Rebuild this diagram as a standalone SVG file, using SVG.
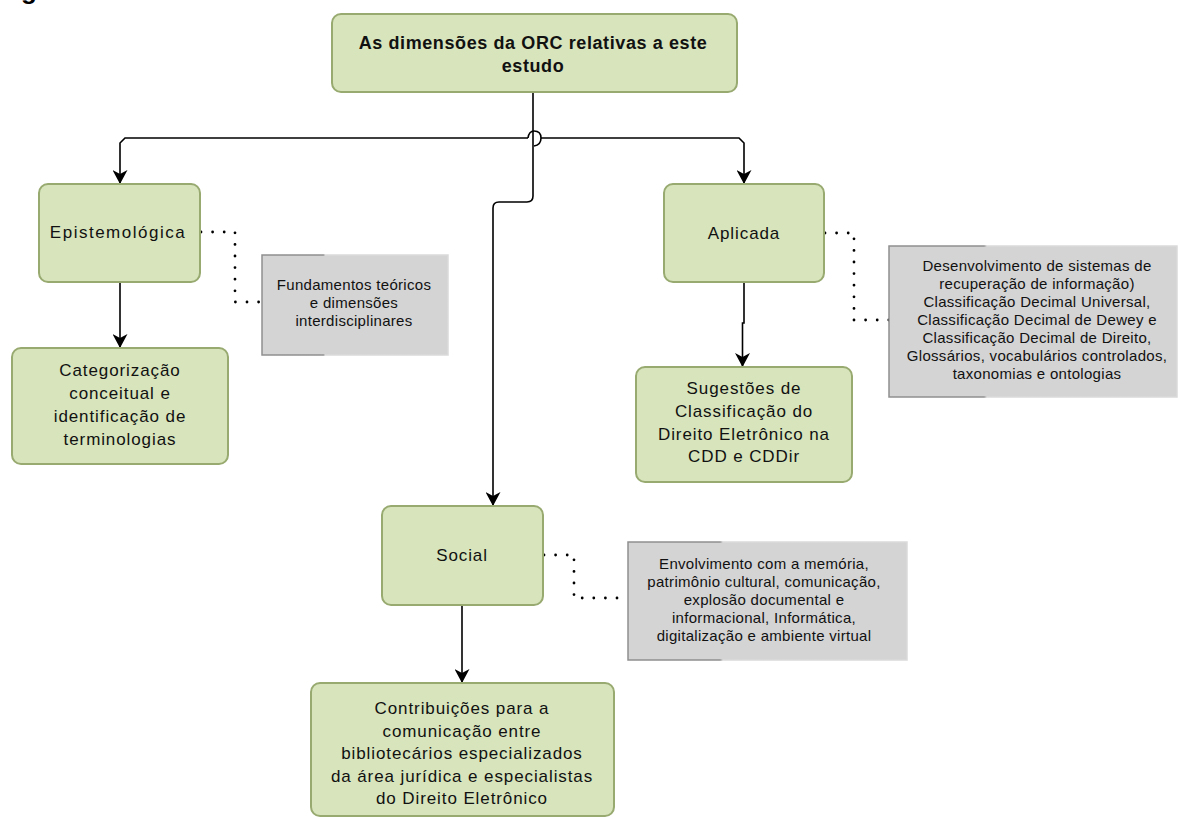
<svg xmlns="http://www.w3.org/2000/svg" width="1181" height="819" viewBox="0 0 1181 819">
<style>
.node{fill:#d7e4bc;stroke:#98aa70;stroke-width:2}
.note{fill:#d4d4d4;stroke:url(#ns);stroke-width:1.5}
.t{font-family:"Liberation Sans",Arial,sans-serif;font-size:17px;fill:#111;text-anchor:middle;letter-spacing:0.9px}
.tb{font-family:"Liberation Sans",Arial,sans-serif;font-size:18px;font-weight:bold;fill:#111;text-anchor:middle;letter-spacing:0.6px}
.tn{font-family:"Liberation Sans",Arial,sans-serif;font-size:15px;fill:#111;text-anchor:middle;letter-spacing:0.3px}
.ln{fill:none;stroke:#000;stroke-width:1.6}
.dot{fill:none;stroke:#000;stroke-width:2.8;stroke-linecap:round;stroke-dasharray:0 11.6}
</style>
<defs>
<linearGradient id="ns" x1="0" y1="0" x2="1" y2="0">
<stop offset="0" stop-color="#8f8f8f"/>
<stop offset="0.33" stop-color="#8f8f8f"/>
<stop offset="0.34" stop-color="#dadada"/>
<stop offset="1" stop-color="#dadada"/>
</linearGradient>
<marker id="ah" viewBox="0 0 14 15" markerWidth="14" markerHeight="15" refX="14" refY="7.5" orient="auto" markerUnits="userSpaceOnUse">
<path d="M0,0 L14,7.5 L0,15 L4,7.5 Z" fill="#000"/>
</marker>
</defs>
<rect width="1181" height="819" fill="#fff"/>
<text x="21" y="-1" style="font-family:'Liberation Sans',Arial,sans-serif;font-size:26px;font-weight:bold" fill="#000">g</text>

<g id="connectors">
<path class="ln" d="M533,92 V196 Q533,202 527,202 H499 Q493,202 493,208 V506" marker-end="url(#ah)"/>
<path class="ln" d="M528,138 H125 L120,143 V184" marker-end="url(#ah)"/>
<path class="ln" d="M528,138 Q529,131 534,131 Q541,131 541,138 Q541,145 534,146"/>
<path class="ln" d="M541,138 H739 L744,143 V184" marker-end="url(#ah)"/>
<path class="ln" d="M120,282 V348" marker-end="url(#ah)"/>
<path class="ln" d="M744,282 V323 H742.5 V367" marker-end="url(#ah)"/>
<path class="ln" d="M462,605 V683" marker-end="url(#ah)"/>
<path class="dot" d="M201,232 H235 V302 H262"/>
<path class="dot" d="M825,233 H854 V320 H889"/>
<path class="dot" d="M544,555 H574 V598 H628"/>
</g>

<g id="n-top">
<rect class="node" x="332" y="14" width="405" height="78" rx="9"/>
<text class="tb" x="533" y="49">As dimensões da ORC relativas a este</text>
<text class="tb" x="533" y="72">estudo</text>
</g>

<g id="n-epistemologica">
<rect class="node" x="39" y="184" width="161" height="98" rx="9"/>
<text class="t" x="118" y="238" style="letter-spacing:1.5px">Epistemológica</text>
</g>

<g id="n-categorizacao">
<rect class="node" x="12" y="348" width="216" height="116" rx="9"/>
<text class="t" x="120" y="376">Categorização</text>
<text class="t" x="120" y="399">conceitual e</text>
<text class="t" x="120" y="422">identificação de</text>
<text class="t" x="120" y="445">terminologias</text>
</g>

<g id="note-fundamentos">
<rect class="note" x="262" y="255" width="186" height="100"/>
<text class="tn" x="354" y="290">Fundamentos teóricos</text>
<text class="tn" x="354" y="308">e dimensões</text>
<text class="tn" x="354" y="326">interdisciplinares</text>
</g>

<g id="n-aplicada">
<rect class="node" x="664" y="184" width="160" height="98" rx="9"/>
<text class="t" x="744" y="239">Aplicada</text>
</g>

<g id="note-aplicada">
<rect class="note" x="889" y="246" width="288" height="151"/>
<text class="tn" x="1037" y="271">Desenvolvimento de sistemas de</text>
<text class="tn" x="1037" y="289">recuperação de informação)</text>
<text class="tn" x="1037" y="307">Classificação Decimal Universal,</text>
<text class="tn" x="1037" y="325">Classificação Decimal de Dewey e</text>
<text class="tn" x="1037" y="343">Classificação Decimal de Direito,</text>
<text class="tn" x="1037" y="361">Glossários, vocabulários controlados,</text>
<text class="tn" x="1037" y="379">taxonomias e ontologias</text>
</g>

<g id="n-sugestoes">
<rect class="node" x="636" y="367" width="216" height="115" rx="9"/>
<text class="t" x="744" y="394">Sugestões de</text>
<text class="t" x="744" y="417">Classificação do</text>
<text class="t" x="744" y="440">Direito Eletrônico na</text>
<text class="t" x="744" y="462">CDD e CDDir</text>
</g>

<g id="n-social">
<rect class="node" x="382" y="506" width="161" height="99" rx="9"/>
<text class="t" x="462" y="561">Social</text>
</g>

<g id="note-social">
<rect class="note" x="628" y="542" width="279" height="118"/>
<text class="tn" x="764" y="569">Envolvimento com a memória,</text>
<text class="tn" x="764" y="587">patrimônio cultural, comunicação,</text>
<text class="tn" x="764" y="605">explosão documental e</text>
<text class="tn" x="764" y="623">informacional, Informática,</text>
<text class="tn" x="764" y="641">digitalização e ambiente virtual</text>
</g>

<g id="n-contribuicoes">
<rect class="node" x="311" y="683" width="303" height="133" rx="9"/>
<text class="t" x="462" y="714">Contribuições para a</text>
<text class="t" x="462" y="737">comunicação entre</text>
<text class="t" x="462" y="759">bibliotecários especializados</text>
<text class="t" x="462" y="782">da área jurídica e especialistas</text>
<text class="t" x="462" y="804">do Direito Eletrônico</text>
</g>
</svg>
